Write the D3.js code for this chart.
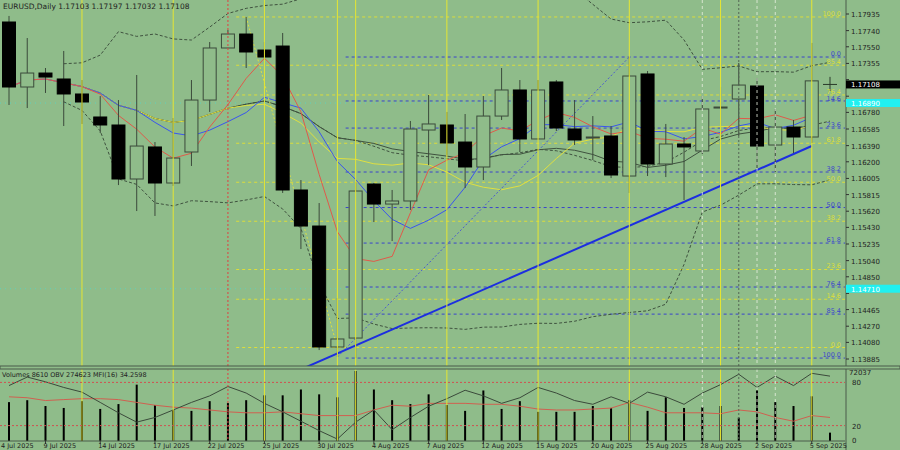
<!DOCTYPE html>
<html><head><meta charset="utf-8">
<script src="https://cdn.jsdelivr.net/npm/d3@7"></script>
<style>body{margin:0;background:#8fbc8a}svg{display:block}text{font-family:"DejaVu Sans",sans-serif}</style>
</head><body><svg id="c" width="900" height="450"></svg>
<script>
const dates=["4 Jul 2025","9 Jul 2025","14 Jul 2025","17 Jul 2025","22 Jul 2025","25 Jul 2025","30 Jul 2025","4 Aug 2025","7 Aug 2025","12 Aug 2025","15 Aug 2025","20 Aug 2025","25 Aug 2025","28 Aug 2025","2 Sep 2025","5 Sep 2025"];
const dateIdx=[-1,2,5,8,11,14,17,20,23,26,29,32,35,38,41,44];
const open=[1.17841,1.17078,1.17242,1.17172,1.16996,1.16726,1.16632,1.15998,1.16374,1.15951,1.16315,1.16925,1.17536,1.17700,1.17512,1.17559,1.15869,1.15446,1.14026,1.14131,1.15939,1.15704,1.15740,1.16573,1.16632,1.16432,1.16139,1.16737,1.17043,1.16468,1.17137,1.16585,1.16479,1.16503,1.16033,1.17231,1.16174,1.16409,1.16327,1.16831,1.16937,1.17090,1.16397,1.16608,1.16491,1.17103];
const high=[1.17912,1.17653,1.17301,1.17501,1.17160,1.16972,1.16925,1.17219,1.16432,1.16714,1.17160,1.17606,1.17747,1.17900,1.17606,1.17712,1.15986,1.15716,1.14601,1.15963,1.15951,1.15869,1.16679,1.16984,1.16785,1.16761,1.16972,1.17301,1.17160,1.17160,1.17160,1.16925,1.16737,1.16620,1.17430,1.17266,1.16644,1.16491,1.16972,1.17078,1.17360,1.17184,1.16820,1.16691,1.17595,1.17197];
const low=[1.16867,1.16831,1.17008,1.16620,1.16644,1.16538,1.15927,1.15622,1.15564,1.15916,1.16151,1.16785,1.17536,1.17301,1.17395,1.15834,1.15176,1.13990,1.13908,1.13896,1.15493,1.15270,1.15635,1.16162,1.16280,1.15892,1.15986,1.16691,1.16315,1.16468,1.16561,1.16397,1.16221,1.16009,1.15834,1.16033,1.16021,1.15751,1.16291,1.16503,1.16503,1.16127,1.16080,1.16303,1.16421,1.17032];
const close=[1.17078,1.17242,1.17195,1.16996,1.16902,1.16632,1.15998,1.16385,1.15951,1.16244,1.16925,1.17536,1.17700,1.17489,1.17430,1.15869,1.15446,1.14026,1.14120,1.15857,1.15704,1.15740,1.16585,1.16644,1.16421,1.16139,1.16737,1.17043,1.16468,1.17043,1.16597,1.16456,1.16491,1.16045,1.17207,1.16174,1.16409,1.16374,1.16820,1.16843,1.17101,1.16385,1.16608,1.16491,1.17150,1.17108];
const volume=[40000,42000,36000,34000,41000,33000,38000,58000,37000,32000,31000,41000,39000,42000,47000,47000,53000,48000,45000,72037,53000,42000,38000,48000,37000,31000,52000,33000,41000,30000,30000,30000,36000,34000,42000,31000,45000,34000,35000,36000,24000,52000,40000,36000,46000,8610];
const mfi=[75.6,87.4,80.8,73,66.5,52.2,37.8,24.8,31.3,41.7,52.2,61.3,74.3,65.2,50.9,39.1,26.1,13,1.3,24.8,41.7,14.3,31.3,46.9,57.4,69.1,61.3,50.9,58.7,73,65.2,54.8,49.6,60,50.9,66.5,60,49.6,65.2,76.9,91.3,73,88.7,75.6,92.6,88.7];
const obvLine=[60,58.7,54.8,56.1,57.4,57.4,56.1,52.2,48.3,45.6,44.3,41.7,39.1,37.8,37.8,39.1,36.5,33.9,33.9,33.9,41.7,48.3,46.9,50.9,50.9,50.9,49.6,49.6,46.9,43,41.7,41.7,43,44.3,52.2,45.6,37.8,37.8,37.8,36.5,41.7,39.1,31.3,26.1,33.9,31.3];
const priceTicks=["1.17935","1.17740","1.17550","1.17355","1.17165","1.16970","1.16780","1.16585","1.16390","1.16200","1.16005","1.15815","1.15620","1.15430","1.15235","1.15040","1.14850","1.14655","1.14465","1.14270","1.14080","1.13885"];
const fibLevels=[0,14.6,23.6,38.2,50,61.8,76.4,85.4,100];
const blueFib={hi:1.17430,lo:1.13896,from:19};
const yellowFib={hi:1.17900,lo:1.14020,from:13};
const yellowV=[4,9,14,18,19,24,29,34,39,44], redV=[12], whiteV=[38,41,42], grayV=[40];
const trendMain=[[16.3,1.13791],[44,1.16385]];
const trendBlueDot=[[18,1.13908],[34,1.17430]];
const trendYellowDot=[[13,1.17900],[18,1.14020]];
const cyanLevels=[1.16890,1.14710];
const header="EURUSD,Daily  1.17103 1.17197 1.17032 1.17108";
const volHeader="Volumes 8610  OBV 274623  MFI(16) 34.2598";

const svg=d3.select("#c");
const W=845;
const x=d3.scaleLinear().domain([0,45]).range([9,830]);
const y=d3.scaleLinear().domain([1.13885,1.17935]).range([359,14]);
const yv=d3.scaleLinear().domain([0,72037]).range([441,371]);
const ym=d3.scaleLinear().domain([0,100]).range([440,368]);
const N=close.length;
const main=svg.append("g");
main.append("clipPath").attr("id","cp").append("rect").attr("width",W).attr("height",366);
const g=main.append("g").attr("clip-path","url(#cp)");
const gv=svg.append("g");
function vlines(arr,col,dash,op){arr.forEach(i=>{[[0,366],[369,441]].forEach(([a,b])=>svg.append("line").attr("x1",x(i)).attr("x2",x(i)).attr("y1",a).attr("y2",b).attr("stroke",col).attr("stroke-dasharray",dash).attr("opacity",op))});}
vlines(yellowV,"#e6e632",null,1);vlines(redV,"#e04040","2,2",1);vlines(whiteV,"#e8f0e0","3,3",0.8);vlines(grayV,"#556655","2,2",1);
const labelYs=[];
function fib(f,col,up){fibLevels.forEach(l=>{const p=up?f.lo+(f.hi-f.lo)*l/100:f.hi-(f.hi-f.lo)*l/100;
 g.append("line").attr("x1",x(f.from)-10).attr("x2",W).attr("y1",y(p)).attr("y2",y(p)).attr("stroke",col).attr("stroke-dasharray","3,3");
 let ly=y(p)-1; labelYs.forEach(o=>{if(Math.abs(o-ly)<7) ly=o+(ly>=o?7:-7);}); labelYs.push(ly);
 svg.append("text").attr("x",841).attr("y",ly).attr("text-anchor","end").attr("font-size",6.5).attr("fill",col).text(l.toFixed(1));});}
fib(yellowFib,"#dede3a",true);fib(blueFib,"#3a44cc",false);
cyanLevels.forEach(p=>g.append("line").attr("x1",0).attr("x2",W).attr("y1",y(p)).attr("y2",y(p)).attr("stroke","#40e0e0").attr("stroke-dasharray","1,4").attr("opacity",0.6));
const sma=(n)=>close.map((_,i)=>{const s=close.slice(Math.max(0,i-n+1),i+1);return d3.mean(s);});
const line=d3.line().x((d,i)=>x(i)).y(d=>y(d));
const bbMid=sma(20);
const bbSd=close.map((_,i)=>{const s=close.slice(Math.max(0,i-19),i+1);return s.length>1?d3.deviation(s):0;});
const upper=bbMid.map((m,i)=>m+2*bbSd[i]), lower=bbMid.map((m,i)=>m-2*bbSd[i]);
[[upper],[lower],[bbMid]].forEach(([d])=>g.append("path").datum(d.slice(3,N)).attr("d",d3.line().x((v,i)=>x(i+3)).y(v=>y(v))).attr("fill","none").attr("stroke","#3f523f").attr("stroke-dasharray","3,2"));
[[sma(21),"#3f523f"],[sma(13),"#e0e040"],[sma(8),"#3a55ee"],[sma(5),"#e05a4a"]].forEach(([d,c])=>g.append("path").datum(d.slice(0,N-1)).attr("d",line).attr("fill","none").attr("stroke",c).attr("stroke-width",1));
const tl=(t,c,w,da)=>g.append("line").attr("x1",x(t[0][0])).attr("y1",y(t[0][1])).attr("x2",x(t[1][0])).attr("y2",y(t[1][1])).attr("stroke",c).attr("stroke-width",w).attr("stroke-dasharray",da);
tl(trendBlueDot,"#4a5ad0",1,"2,2");tl(trendYellowDot,"#e0e040",1,"2,2");tl(trendMain,"#1c2ee0",2,null);
const cw=13;
for(let i=0;i<N-1;i++){const up=close[i]>=open[i];
 g.append("line").attr("x1",x(i)).attr("x2",x(i)).attr("y1",y(high[i])).attr("y2",y(low[i])).attr("stroke","#3b4a3b");
 const t=y(Math.max(open[i],close[i])),b=y(Math.min(open[i],close[i]));
 g.append("rect").attr("x",x(i)-cw/2).attr("y",t).attr("width",cw).attr("height",Math.max(1,b-t)).attr("fill",up?"#8fbc8a":"#000").attr("stroke",up?"#3b4a3b":"#000");}
const L=N-1;
g.append("line").attr("x1",x(L)).attr("x2",x(L)).attr("y1",y(high[L])).attr("y2",y(low[L])).attr("stroke","#2a3a2a");
g.append("line").attr("x1",x(L)-7).attr("x2",x(L)+7).attr("y1",y(close[L])).attr("y2",y(close[L])).attr("stroke","#2a3a2a");
svg.append("line").attr("x1",W+1).attr("x2",W+1).attr("y1",0).attr("y2",450).attr("stroke","#4a5a4a");
const boxes=cyanLevels.concat([close[L]]).map(p=>y(p));
priceTicks.forEach(t=>{const ty=y(+t);svg.append("line").attr("x1",W+1).attr("x2",W+4).attr("y1",ty).attr("y2",ty).attr("stroke","#333");
 if(boxes.every(b=>Math.abs(b-ty)>7))svg.append("text").attr("x",851).attr("y",ty+3).attr("font-size",7).attr("fill","#222").text(t);});
cyanLevels.forEach(p=>{svg.append("rect").attr("x",W+1).attr("y",y(p)-4).attr("width",54).attr("height",8).attr("fill","#20f0f0");svg.append("text").attr("x",851).attr("y",y(p)+3).attr("font-size",7).attr("fill","#fff").text(p.toFixed(5));});
svg.append("rect").attr("x",W+1).attr("y",y(close[L])-4).attr("width",54).attr("height",8).attr("fill","#000");
svg.append("text").attr("x",851).attr("y",y(close[L])+3).attr("font-size",7).attr("fill","#fff").text(close[L].toFixed(5));
svg.append("text").attr("x",3).attr("y",9).attr("font-size",7.5).attr("fill","#222").text(header);
svg.append("rect").attr("x",0).attr("y",366).attr("width",900).attr("height",3).attr("fill","#8fbc8a").attr("stroke","#4a5a4a");
[80,20].forEach(v=>{svg.append("line").attr("x1",0).attr("x2",W).attr("y1",ym(v)).attr("y2",ym(v)).attr("stroke","#d05050").attr("stroke-dasharray","2,2");svg.append("text").attr("x",852).attr("y",ym(v)+3).attr("font-size",7).attr("fill","#222").text(v);});
svg.append("text").attr("x",852).attr("y",ym(0)+3).attr("font-size",7).attr("fill","#222").text("0");
svg.append("text").attr("x",849).attr("y",375).attr("font-size",7).attr("fill","#222").text("72037");
volume.forEach((v,i)=>gv.append("rect").attr("x",x(i)-1).attr("y",yv(v)).attr("width",2).attr("height",yv(0)-yv(v)).attr("fill","#000"));
const lm=d3.line().x((d,i)=>x(i)).y(d=>ym(d));
gv.append("path").datum(obvLine).attr("d",lm).attr("fill","none").attr("stroke","#d06050");
gv.append("path").datum(mfi).attr("d",lm).attr("fill","none").attr("stroke","#3b4a3b");
svg.append("text").attr("x",2).attr("y",377).attr("font-size",6.5).attr("fill","#222").text(volHeader);
svg.append("line").attr("x1",0).attr("x2",W).attr("y1",441).attr("y2",441).attr("stroke","#4a5a4a");
dates.forEach((d,k)=>{const xi=x(dateIdx[k]);svg.append("line").attr("x1",xi).attr("x2",xi).attr("y1",441).attr("y2",444).attr("stroke","#333");
 svg.append("text").attr("x",Math.max(1,xi-2)).attr("y",448).attr("font-size",6.5).attr("fill","#222").text(d);});
</script></body></html>
